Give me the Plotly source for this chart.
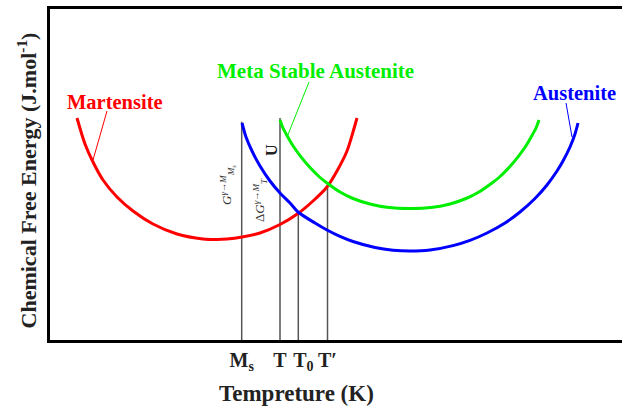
import plotly.graph_objects as go

# ---- data (x: temperature axis units, y: free energy units) ----
mart_x = [77, 85, 93, 103, 117, 133, 153, 177, 203, 217, 227, 242, 260, 280, 298, 313, 327, 337, 347, 353, 357]
mart_y = [222, 196, 178, 160, 143, 129, 116, 106, 101, 100.5, 101, 103, 107, 115.5, 126.5, 139, 153, 169, 189, 208, 222]

aus_x = [242, 246, 252, 260, 270, 280, 290, 298, 315, 327, 340, 353, 375, 393, 410, 430, 453, 470, 487, 505, 520, 535, 547, 557, 563, 570, 575, 578]
aus_y = [217, 203, 189, 174, 159, 147, 137, 128, 117, 110, 103.6, 98.5, 92.5, 89.8, 89, 90, 94.4, 99.6, 107, 117, 128, 141.5, 155, 169, 179, 193, 206, 217]

meta_x = [280, 283, 287, 293, 300, 310, 320, 327, 340, 353, 370, 387, 410, 433, 450, 466, 479, 492, 499, 509, 519, 526, 532, 536, 539]
meta_y = [220, 212, 204.5, 194.2, 184.4, 172.4, 162.5, 157, 148, 141.5, 136, 132.7, 131.5, 132.7, 136, 141.5, 148, 157, 162.5, 172.4, 184.4, 194.2, 204.5, 212, 220]

temp_names = ["<b>M<sub>s</sub></b>", "<b>T</b>", "\u2002<b>T<sub>0</sub></b>", "<b>T\u2032</b>"]
temp_vals = [241.7, 280, 298.3, 327.5]
temp_tops = [218.3, 222, 126.7, 155]

mart_lead_x, mart_lead_y = [107, 93], [229, 180]
meta_lead_x, meta_lead_y = [309, 287], [258, 203]
aus_lead_x, aus_lead_y = [566, 572], [237, 203]

SERIF = "Liberation Serif"

fig = go.Figure()

# vertical guide lines
for xv, yt in zip(temp_vals, temp_tops):
    fig.add_trace(go.Scatter(x=[xv, xv], y=[0, yt], mode="lines",
                             line=dict(color="#555555", width=1.5), hoverinfo="skip"))

# leader lines
fig.add_trace(go.Scatter(x=mart_lead_x, y=mart_lead_y, mode="lines", line=dict(color="#ff0000", width=1)))
fig.add_trace(go.Scatter(x=meta_lead_x, y=meta_lead_y, mode="lines", line=dict(color="#00ee00", width=1)))
fig.add_trace(go.Scatter(x=aus_lead_x, y=aus_lead_y, mode="lines", line=dict(color="#0000ff", width=1)))

# curves
fig.add_trace(go.Scatter(x=mart_x, y=mart_y, mode="lines", name="Martensite",
                         line=dict(color="#ff0000", width=3, shape="spline", smoothing=0.8)))
fig.add_trace(go.Scatter(x=meta_x, y=meta_y, mode="lines", name="Meta Stable Austenite",
                         line=dict(color="#00ee00", width=3, shape="spline", smoothing=0.8)))
fig.add_trace(go.Scatter(x=aus_x, y=aus_y, mode="lines", name="Austenite",
                         line=dict(color="#0000ff", width=3, shape="spline", smoothing=0.8)))

ann = [
    dict(x=115, y=238, text="<b>Martensite</b>", font=dict(color="#ff0000", size=20.5, family=SERIF)),
    dict(x=315, y=269, text="<b>Meta Stable Austenite</b>", font=dict(color="#00ee00", size=21, family=SERIF)),
    dict(x=574, y=247, text="<b>Austenite</b>", font=dict(color="#0000ff", size=20.5, family=SERIF)),
    dict(x=227, y=155, text="<i>G<sup>\u03b3\u2192M</sup><sub>M<sub>s</sub></sub></i>", textangle=-90,
         font=dict(color="#333333", size=13, family=SERIF)),
    dict(x=260, y=140, text="\u0394<i>G<sup>\u03b3\u2192M</sup><sub>T</sub></i>", textangle=-90,
         font=dict(color="#333333", size=13, family=SERIF)),
    dict(x=271, y=190, text="<b>U</b>", textangle=-90, font=dict(color="#222222", size=16, family=SERIF)),
]
for a in ann:
    a.update(xref="x", yref="y", showarrow=False)

# axis titles (placed as in the original, offset from plot centre)
ann.append(dict(x=296, y=-0.163, xref="x", yref="paper", showarrow=False, yanchor="middle",
                text="<b>Tempreture (K)</b>", font=dict(family=SERIF, size=23, color="#222222")))
ann.append(dict(x=-0.0402, y=0.482, xref="paper", yref="paper", showarrow=False,
                xanchor="center", yanchor="middle", textangle=-90,
                text="<b>Chemical Free Energy (J.mol<sup>-1</sup>)</b>",
                font=dict(family=SERIF, size=22, color="#222222")))

fig.update_layout(
    width=622, height=408,
    margin=dict(l=50, r=0, t=9, b=68),
    paper_bgcolor="white", plot_bgcolor="white",
    showlegend=False,
    annotations=ann,
    xaxis=dict(range=[50, 622], showgrid=False, zeroline=False,
               showline=True, linecolor="black", linewidth=3, mirror=True,
               tickvals=temp_vals, ticktext=temp_names, ticks="", tickangle=0,
               tickfont=dict(family=SERIF, size=20, color="#222222")),
    yaxis=dict(range=[0, 331], showgrid=False, zeroline=False,
               showline=True, linecolor="black", linewidth=3,
               showticklabels=False, ticks=""),
)

fig.write_html("out.html")
